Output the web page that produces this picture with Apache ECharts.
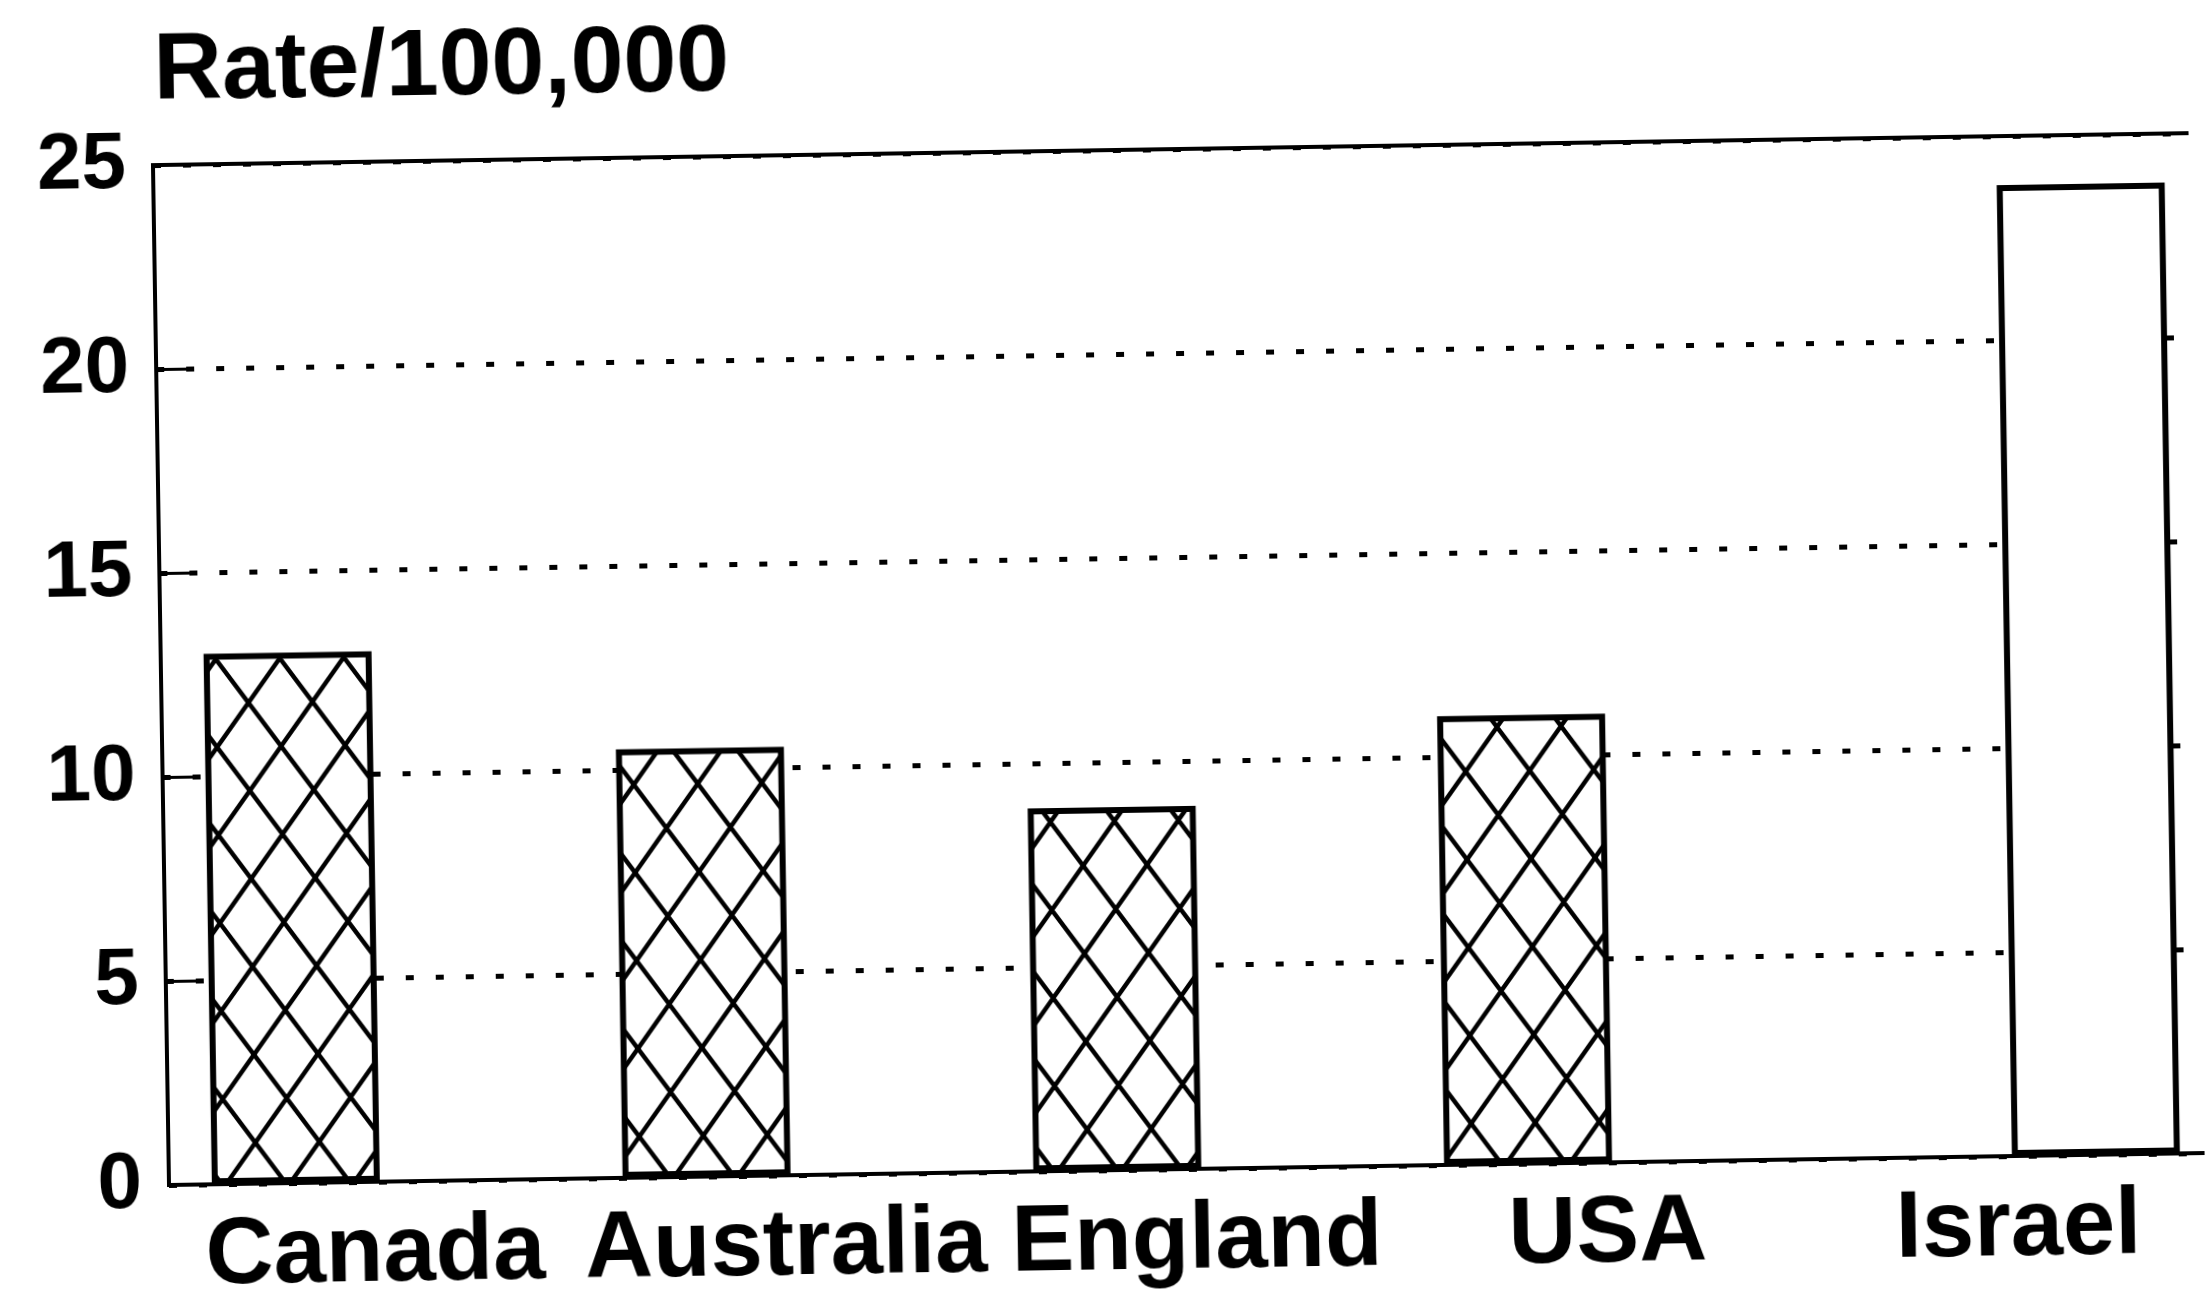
<!DOCTYPE html>
<html>
<head>
<meta charset="utf-8">
<script src="https://cdn.jsdelivr.net/npm/echarts@6/dist/echarts.min.js"></script>
<style>
  html, body { margin: 0; background: #fff; overflow: hidden; }
  /* the scanned original sits a little counter-clockwise */
  #chart { width: 2205px; height: 1306px; transform: rotate(-0.9deg); transform-origin: 169px 1185px; }
</style>
</head>
<body>
<div id="chart"></div>
<script>
const countries = ['Canada', 'Australia', 'England', 'USA', 'Israel']
const rates = [13.0, 10.5, 8.9, 11.0, 23.8]
const openBarCountries = ['Israel']
const yMin = 0
const yMax = 25
const yStep = 5

const font = '"Liberation Sans", Arial, Helvetica, sans-serif'

const hatchedData = rates.map((v, i) => (openBarCountries.includes(countries[i]) ? '-' : v))
const openData = rates.map((v, i) => (openBarCountries.includes(countries[i]) ? v : '-'))

// cross-hatch tile, white behind so the dotted grid does not show through
function makeHatch() {
  const w = 64
  const h = 88
  const c = document.createElement('canvas')
  c.width = w
  c.height = h
  const ctx = c.getContext('2d')
  ctx.fillStyle = '#fff'
  ctx.fillRect(0, 0, w, h)
  ctx.strokeStyle = '#000'
  ctx.lineWidth = 4.5
  for (const dx of [-w, 0, w]) {
    for (const dy of [-h, 0, h]) {
      ctx.beginPath()
      ctx.moveTo(dx, dy)
      ctx.lineTo(dx + w, dy + h)
      ctx.moveTo(dx + w, dy)
      ctx.lineTo(dx, dy + h)
      ctx.stroke()
    }
  }
  return c
}

const chart = echarts.init(document.getElementById('chart'))
chart.setOption({
  animation: false,
  backgroundColor: '#fff',
  title: {
    text: 'Rate/100,000',
    left: 166,
    top: 20,
    textStyle: { fontSize: 95, fontWeight: 'bold', color: '#000', fontFamily: font }
  },
  grid: {
    left: 169,
    top: 165,
    right: -18,
    bottom: 121,
    show: true,
    borderColor: '#000',
    borderWidth: 4,
    outerBoundsMode: 'none'
  },
  xAxis: {
    type: 'category',
    data: countries,
    axisLine: { show: true, lineStyle: { color: '#000', width: 4 } },
    axisTick: { show: false },
    axisLabel: {
      color: '#000',
      fontSize: 94,
      fontWeight: 'bold',
      fontFamily: font,
      margin: 26,
      interval: 0
    }
  },
  yAxis: {
    type: 'value',
    min: yMin,
    max: yMax,
    interval: yStep,
    axisLine: { show: true, lineStyle: { color: '#000', width: 4 } },
    axisTick: { show: true, inside: true, length: 35, lineStyle: { color: '#000', width: 3 } },
    axisLabel: {
      color: '#000',
      fontSize: 80,
      fontWeight: 'bold',
      fontFamily: font,
      margin: 27,
      padding: [8, 0, 0, 0]
    },
    splitLine: { show: true, lineStyle: { color: '#000', width: 5, type: [8, 22] } }
  },
  series: [
    {
      type: 'bar',
      data: hatchedData,
      barWidth: 168,
      barGap: '-6.5%',
      itemStyle: {
        color: { image: makeHatch(), repeat: 'repeat' },
        borderColor: '#000',
        borderWidth: 6
      }
    },
    {
      type: 'bar',
      data: openData,
      barWidth: 168,
      barGap: '-6.5%',
      itemStyle: { color: '#fff', borderColor: '#000', borderWidth: 6 }
    }
  ]
})
</script>
</body>
</html>
